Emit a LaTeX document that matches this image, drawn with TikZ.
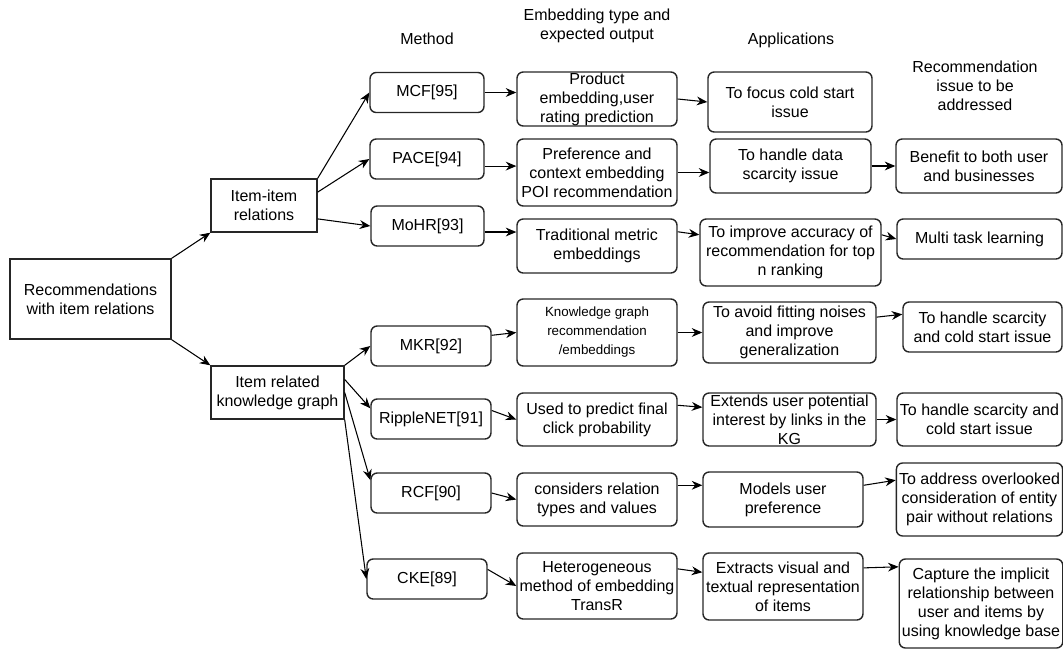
\documentclass[tikz,border=0pt]{standalone}
\usepackage{fontspec}
\setmainfont{Liberation Sans}
\usetikzlibrary{arrows.meta}

\begin{document}
\begin{tikzpicture}[x=0.02cm, y=-0.02cm,
    every node/.style={font=\fontsize{9.1}{10.8}\selectfont, align=center},
    nodeSQ/.style={rectangle, draw=black!85, line width=0.8pt, inner xsep=2pt, inner ysep=0pt},
    nodeRD/.style={rectangle, rounded corners=3.5pt, draw=black!85, line width=0.8pt, inner xsep=1.5pt, inner ysep=0pt},
    link/.style={-{Stealth[length=6pt, width=5pt]}, line width=0.6pt, black}]

    \useasboundingbox (0,0) rectangle (1063,650);

    % Root and the two groups
    \node[nodeSQ, minimum width=3.22cm, minimum height=1.6cm] (Root) at (90.5, 299) {Recommendations\\with item relations};
    \node[nodeSQ, minimum width=2.12cm, minimum height=1.06cm] (II) at (264, 205.5) {Item-item\\relations};
    \node[nodeSQ, minimum width=2.66cm, minimum height=1.06cm] (KG) at (277.5, 392.5) {Item related\\knowledge graph};

    % Column headings
    \node (hMethod) at (427, 39) {Method};
    \node (hEmb) at (597, 26) {Embedding type and\\expected output};
    \node (hApp) at (791, 40) {Applications};
    \node (hIssue) at (975, 86) {Recommendation\\issue to be\\addressed};

    % Methods
    \node[nodeRD, minimum width=2.28cm, minimum height=0.8cm] (M1) at (427, 92.5) {MCF[95]};
    \node[nodeRD, minimum width=2.28cm, minimum height=0.8cm] (M2) at (427, 159) {PACE[94]};
    \node[nodeRD, minimum width=2.26cm, minimum height=0.8cm] (M3) at (427.5, 226) {MoHR[93]};
    \node[nodeRD, minimum width=2.4cm, minimum height=0.8cm] (M4) at (431, 346) {MKR[92]};
    \node[nodeRD, minimum width=2.4cm, minimum height=0.8cm] (M5) at (431, 419) {RippleNET[91]};
    \node[nodeRD, minimum width=2.4cm, minimum height=0.8cm] (M6) at (431, 493) {RCF[90]};
    \node[nodeRD, minimum width=2.4cm, minimum height=0.8cm] (M7) at (427, 579) {CKE[89]};

    % Embedding type and expected output
    \node[nodeRD, minimum width=3.2cm, minimum height=1.08cm] (E1) at (597, 99) {Product\\embedding,user\\rating prediction};
    \node[nodeRD, minimum width=3.2cm, minimum height=1.34cm] (E2) at (597, 172.5) {Preference and\\context embedding\\POI recommendation};
    \node[nodeRD, minimum width=3.2cm, minimum height=1.08cm] (E3) at (597, 246) {Traditional metric\\embeddings};
    \node[nodeRD, minimum width=3.2cm, minimum height=1.34cm, font=\fontsize{7.6}{10.8}\selectfont] (E4) at (597, 332.5) {Knowledge graph\\recommendation\\/embeddings};
    \node[nodeRD, minimum width=3.2cm, minimum height=1.06cm] (E5) at (597, 419.5) {Used to predict final\\click probability};
    \node[nodeRD, minimum width=3.2cm, minimum height=1.06cm] (E6) at (597, 499.5) {considers relation\\types and values};
    \node[nodeRD, minimum width=3.2cm, minimum height=1.32cm] (E7) at (597, 586) {Heterogeneous\\method of embedding\\TransR};

    % Applications
    \node[nodeRD, minimum width=3.28cm, minimum height=1.2cm] (A1) at (790, 102) {To focus cold start\\issue};
    \node[nodeRD, minimum width=3.22cm, minimum height=1.08cm] (A2) at (790.5, 166) {To handle data\\scarcity issue};
    \node[nodeRD, minimum width=3.62cm, minimum height=1.34cm] (A3) at (790.5, 252.5) {To improve accuracy of\\recommendation for top\\n ranking};
    \node[nodeRD, minimum width=3.46cm, minimum height=1.22cm] (A4) at (789.5, 332.5) {To avoid fitting noises\\and improve\\generalization};
    \node[nodeRD, minimum width=3.46cm, minimum height=1.06cm] (A5) at (789.5, 419.5) {Extends user potential\\interest by links in the\\KG};
    \node[nodeRD, minimum width=3.2cm, minimum height=1.1cm] (A6) at (783, 499.5) {Models user\\preference};
    \node[nodeRD, minimum width=3.2cm, minimum height=1.34cm] (A7) at (783, 586.5) {Extracts visual and\\textual representation\\of items};

    % Recommendation issue to be addressed
    \node[nodeRD, minimum width=3.32cm, minimum height=1.08cm] (R2) at (979, 166) {Benefit to both user\\and businesses};
    \node[nodeRD, minimum width=3.3cm, minimum height=0.8cm] (R3) at (979.5, 239) {Multi task learning};
    \node[nodeRD, minimum width=3.18cm, minimum height=1.0cm] (R4) at (982.5, 327) {To handle scarcity\\and cold start issue};
    \node[nodeRD, minimum width=3.3cm, minimum height=1.06cm] (R5) at (979.5, 419.5) {To handle scarcity and\\cold start issue};
    \node[nodeRD, minimum width=3.3cm, minimum height=1.46cm] (R6) at (979.5, 499.5) {To address overlooked\\consideration of entity\\pair without relations};
    \node[nodeRD, minimum width=3.24cm, minimum height=1.78cm] (R7) at (981, 603.5) {Capture the implicit\\relationship between\\user and items by\\using knowledge base};

    % Root to groups
    \draw[link] (Root.north east) -- (II.south west);
    \draw[link] (Root.south east) -- (KG.north west);

    % Groups to methods
    \draw[link] (II.north east) -- (M1.west);
    \draw[link] (II.14) -- (M2.west);
    \draw[link] (II.-14) -- (M3.west);
    \draw[link] (KG.north east) -- (M4.west);
    \draw[link] (KG.11) -- (M5.170);
    \draw[link] (KG.east) -- (M6.168);
    \draw[link] (KG.south east) -- (M7.west);

    % Methods to embeddings
    \draw[link] (M1.east) -- (E1.west |- M1.east);
    \draw[link] (M2.-7) -- (E2.west |- M2.-7);
    \draw[link] (M3.-6) -- (E3.west |- M3.-6);
    \draw[link] (M4.10) -- (E4.west);
    \draw[link] (M5.8) -- (E5.west);
    \draw[link] (M6.east) -- (E6.west);
    \draw[link] (M7.9) -- (E7.west);

    % Embeddings to applications
    \draw[link] (E1.east) -- (A1.west);
    \draw[link] (E2.east) -- (A2.west |- E2.east);
    \draw[link] (E3.10) -- (A3.169);
    \draw[link] (E4.east) -- (A4.west);
    \draw[link] (E5.10) -- (A5.172);
    \draw[link] (E6.10) -- (A6.west |- E6.10);
    \draw[link] (E7.12) -- (A7.170);

    % Applications to issues
    \draw[link] (A2.east) -- (R2.west);
    \draw[link] (A3.11) -- (R3.west);
    \draw[link] (A4.10) -- (R4.171);
    \draw[link] (A5.east) -- (R5.west);
    \draw[link] (A6.10) -- (R6.167);
    \draw[link] (A7.13) -- (R7.156);

\end{tikzpicture}
\end{document}
